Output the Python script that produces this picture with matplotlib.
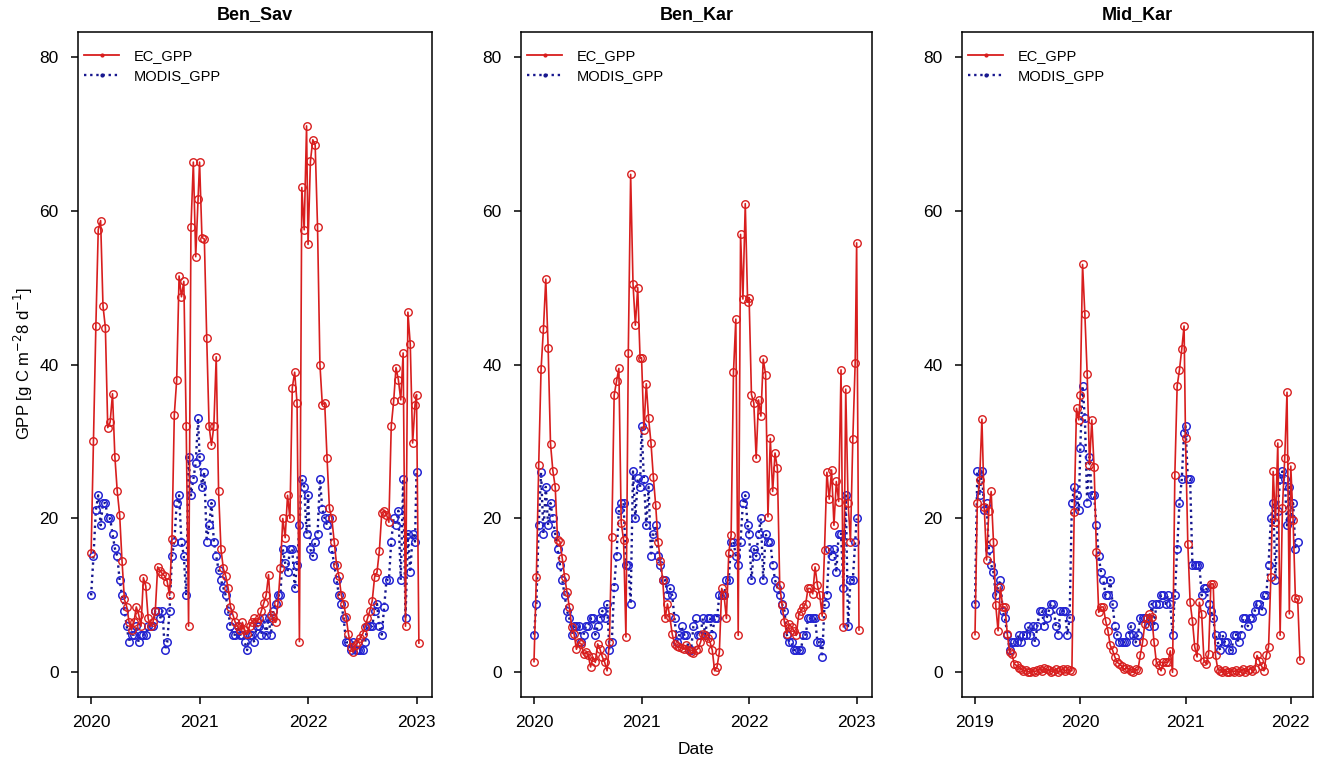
"""
GPP comparison EC tower vs. MODIS (8-day composites) for three sites.
"""

import numpy as np
import matplotlib

matplotlib.use("Agg")
import matplotlib.pyplot as plt
from matplotlib.lines import Line2D

plt.rcParams["font.family"] = ["Liberation Sans", "DejaVu Sans"]

# ---------------------------------------------------------------- data
SITES = ["Ben_Sav", "Ben_Kar", "Mid_Kar"]
START_YEARS = [2020, 2020, 2019]
YEAR_TICKS = [[2020, 2021, 2022, 2023], [2020, 2021, 2022, 2023], [2019, 2020, 2021, 2022]]

# Ben_Sav, EC (46 composites per year, 2020 .. early 2023)
ben_sav_ec = [
    15.5, 30, 45, 57.5, 58.7, 47.6, 44.8, 31.8, 32.5, 36.2, 28, 23.5, 20.5, 14.5, 9.5, 8.5,
    6.5, 5.5, 6.5, 8.5, 7.5, 6, 12.3, 11.2, 7, 6, 6.5, 8, 13.7, 13.2, 12.8, 12.5, 11.8, 10,
    17.3, 33.5, 38, 51.5, 48.8, 50.8, 32, 6, 57.8, 66.3, 54, 61.5,
    66.3, 56.5, 56.3, 43.5, 32, 29.5, 32, 41, 23.5, 16, 13.5, 12.5, 11, 8.5, 7.5, 6.5,
    6, 5.5, 6.5, 5.5, 5, 6, 6.5, 7, 6.5, 7, 8, 9, 10, 12.7, 7.5, 7, 6.5, 9, 13.5, 20,
    17.5, 23, 20, 37, 39, 35, 4, 63, 57.5, 71,
    55.6, 66.4, 69.2, 68.5, 57.8, 40, 34.8, 35, 27.8, 21.3, 20, 17, 14, 12.5, 10, 8.9,
    7.2, 5, 3.3, 2.6, 3.5, 4, 4.5, 5, 5.9, 7, 8, 9.3, 12.4, 13, 15.8, 20.7, 21, 20.5,
    19.5, 32, 35.2, 39.6, 38, 35.4, 41.5, 6, 46.8, 42.6, 29.8, 34.8,
    36.1, 3.8,
]
ben_sav_modis = [
    10, 15.1, 21.1, 23, 19.1, 22, 22, 20, 20, 18, 16.1, 15.1, 12, 10, 8, 6, 3.9, 4.9,
    4.9, 6, 3.9, 4.9, 4.9, 4.9, 6, 6, 6, 8, 8, 7, 8, 2.9, 3.9, 8, 15.1, 17, 22, 23, 17,
    15.1, 10, 28, 23, 25.1, 27.2, 33,
    28, 24.1, 26, 17, 19.1, 22, 17, 15.1, 13.3, 12, 11, 10, 8, 6, 4.9, 4.9, 6, 4.9, 4.9,
    3.9, 2.9, 4.9, 4.9, 3.9, 6, 6, 4.9, 7, 4.9, 7, 4.9, 8, 8.9, 10, 10, 16, 14.2, 13, 16,
    16, 11, 14, 19.1, 25.1, 24.1, 18,
    23, 16, 15.1, 17, 18, 25.1, 21.2, 20, 19.1, 20, 16, 14, 12, 10, 8.9, 7, 3.9, 3.9, 2.9,
    3.9, 2.9, 2.9, 2.9, 2.9, 3.9, 6, 6, 6, 8, 8.9, 6, 4.9, 8.5, 12, 12, 17, 20, 19.1, 21,
    12, 25.1, 7, 18, 13, 18, 17,
    26,
]

# Ben_Kar
ben_kar_ec = [
    1.4, 12.4, 27, 39.4, 44.6, 51.1, 42.2, 29.7, 26.2, 24.1, 17.2, 17, 14.8, 12.4, 10.4,
    8.5, 5.9, 5, 3, 3.9, 3.7, 2.4, 2.6, 2.2, 0.7, 2, 1.3, 3.7, 3, 2, 1.3, 0.2, 4, 17.6,
    36, 37.8, 39.5, 19.4, 17.2, 4.6, 41.5, 64.7, 50.5, 45.1, 50, 40.8,
    40.9, 31.5, 37.5, 33, 29.8, 25.4, 21.7, 17, 14.5, 12, 7, 8.9, 7.2, 5, 3.7, 3.4, 3.3,
    3.2, 3.0, 3.5, 2.9, 2.6, 2.5, 2.9, 3.1, 3.9, 5, 4.8, 4.5, 4.0, 2.9, 0.2, 0.7, 2.6,
    10.9, 10, 7, 15.5, 17.8, 39, 45.9, 4.8, 56.9, 48.5, 60.9, 48.1,
    48.7, 36.1, 35, 27.8, 35.4, 33.3, 40.7, 38.7, 20.2, 30.4, 23.5, 28.5, 26.5, 11.3, 8.7,
    6.5, 5, 6.3, 5.9, 5.4, 4.8, 7.4, 8, 8.5, 8.9, 10.9, 10.9, 10.2, 13.7, 11.3, 10, 7.3,
    15.9, 26, 22.5, 26.3, 19.1, 24.8, 22.2, 39.3, 5.9, 36.8, 22, 17, 30.3, 40.2,
    55.8, 5.5,
]
ben_kar_modis = [
    4.9, 8.9, 19.1, 26, 18, 24.1, 19.1, 22, 20, 18, 16, 14, 12, 10, 8, 7, 4.9, 6, 6, 6,
    3.9, 4.9, 6, 6, 7, 7, 4.9, 6, 7, 8, 7, 8.9, 2.9, 3.9, 11.1, 15.1, 21.1, 22, 22, 14,
    14, 8.9, 26.1, 20, 25.2, 24.1,
    32, 25.1, 19.1, 24.1, 15.1, 18, 19.1, 15.1, 14, 12, 12, 10, 11, 10, 7, 3.9, 4.9, 6,
    4.9, 4.9, 2.9, 2.9, 6, 7, 4.9, 4.9, 7, 4.9, 7, 7, 4.9, 7, 7, 10, 10, 10, 12, 12, 17,
    17, 15.1, 14, 17, 22, 23, 19.1,
    18, 12, 16, 15.1, 18, 20, 12, 18, 17, 17, 14, 12, 11, 10, 8.9, 8, 4.9, 3.9, 3.9, 2.9,
    2.9, 2.9, 2.9, 4.9, 4.9, 7, 7, 7, 7, 3.9, 3.9, 2, 8.9, 10, 16, 15.1, 16, 13, 18, 18,
    11, 23, 6, 12, 12, 17,
    20,
]

# Mid_Kar (2019 .. early 2022)
mid_kar_ec = [
    4.9, 22, 25, 32.9, 21.5, 14.6, 21, 23.5, 17, 8.7, 5.4, 11.1, 8.5, 8.5, 5, 2.6, 2.4,
    1.1, 0.9, 0.6, 0.4, 0.2, 0.3, 0.1, 0, 0.2, 0.1, 0.3, 0.5, 0.2, 0.6, 0.4, 0.3, 0.1,
    0.2, 0.4, 0.1, 0.3, 0.5, 0.2, 0.4, 0.3, 0.2, 20.9, 34.3, 32.8,
    36.1, 53, 46.5, 38.8, 27, 32.8, 26.7, 15.7, 7.8, 8.5, 8.5, 6.7, 5.4, 3.5, 2.9, 2,
    1.3, 1.1, 0.8, 0.4, 0.6, 0.4, 0.2, 0, 0.4, 0.3, 2.2, 3.9, 6.3, 7, 7.6, 7.2, 3.9, 1.3,
    0.9, 0.2, 1.3, 1.3, 1.3, 2.8, 0, 25.7, 37.2, 39.3, 42, 45,
    30.4, 16.7, 9.1, 6.7, 3.3, 2, 9.1, 7.6, 1.5, 1.1, 2.4, 11.5, 11.5, 2.2, 0.4, 0.2,
    0.1, 0.3, 0.1, 0, 0.2, 0.1, 0.3, 0, 0.2, 0.4, 0.1, 0.3, 0.5, 0.2, 0.4, 2.2, 1.5, 0.8,
    0.2, 2.2, 3.3, 12.4, 26.1, 19.6, 29.8, 4.8, 21.3, 27.8, 36.4, 7.6,
    26.8, 19.8, 9.6, 9.5, 1.6,
]
mid_kar_modis = [
    8.9, 26.1, 23, 26.1, 21.1, 22, 16, 14, 13, 10, 11.1, 12, 8, 7, 4.9, 2.9, 3.9, 3.9,
    3.9, 4.9, 3.9, 4.9, 4.9, 6, 4.9, 6, 3.9, 6, 8, 8, 6, 7, 8, 8.9, 8.9, 6, 4.9, 8, 8, 8,
    4.9, 7, 22, 24.1, 23, 21.1,
    29.1, 37.2, 33, 22, 28, 23, 23, 19.1, 15.1, 13, 12, 10, 10, 12, 8.9, 6, 4.9, 3.9, 3.9,
    3.9, 3.9, 4.9, 6, 4.9, 3.9, 4.9, 7, 7, 7, 7, 6, 8.9, 6, 8.9, 8.9, 10, 10, 8.9, 10, 8.9,
    4.9, 10, 16, 22, 25.1, 31.1,
    32, 25.1, 25.1, 13.9, 14, 14, 14, 10, 11, 11, 8.9, 8, 7, 4.9, 3.9, 2.9, 4.9, 3.9, 3.9,
    2.9, 2.9, 4.9, 4.9, 3.9, 4.9, 7, 7, 6, 7, 7, 8, 8.9, 8.9, 8, 10, 10, 14, 20, 22, 12,
    21, 25.1, 26.1, 25.1, 19.1, 24.1,
    20, 22, 16, 17,
]

EC_SERIES = [ben_sav_ec, ben_kar_ec, mid_kar_ec]
MODIS_SERIES = [ben_sav_modis, ben_kar_modis, mid_kar_modis]

# ---------------------------------------------------------------- style
RED = "#d81e1e"
BLUE_LINE = "#17178f"
BLUE_MARK = "#2424d2"
AX_LEFT = [78, 521, 962]
AX_WIDTH = [354, 351, 351]
W, H = 1322, 761


def composite_dates(start_year, n, per_year=46, step=8):
    """Decimal years of MODIS-style 8-day composites (DOY 1, 9, ..., 361)."""
    i = np.arange(n)
    return start_year + i // per_year + (i % per_year) * step / 365.0


fig = plt.figure(figsize=(W / 100, H / 100), dpi=100)

for k, site in enumerate(SITES):
    ax = fig.add_axes([AX_LEFT[k] / W, (H - 697) / H, AX_WIDTH[k] / W, 665 / H])
    ec = np.array(EC_SERIES[k])
    modis = np.array(MODIS_SERIES[k])
    x_ec = composite_dates(START_YEARS[k], len(ec))
    x_mo = composite_dates(START_YEARS[k], len(modis))

    ax.plot(x_mo, modis, linestyle=(0, (1, 1.6)), color=BLUE_LINE, lw=1.7,
            marker="o", ms=5.4, mfc="none", mec=BLUE_MARK, mew=1.1, zorder=2)
    ax.plot(x_ec, ec, "-", color=RED, lw=1.2,
            marker="o", ms=5.4, mfc="none", mec=RED, mew=1.0, zorder=3)

    # R style axis limits (4 % padding)
    xmin = min(x_ec.min(), x_mo.min())
    xmax = max(x_ec.max(), x_mo.max())
    pad = 0.04 * (xmax - xmin)
    ax.set_xlim(xmin - pad, xmax + pad)
    ax.set_ylim(-3.2, 83.2)
    ax.set_xticks(YEAR_TICKS[k])
    ax.set_xticklabels([str(y) for y in YEAR_TICKS[k]])
    ax.set_yticks([0, 20, 40, 60, 80])

    for sp in ax.spines.values():
        sp.set_color("black")
        sp.set_linewidth(1.1)
    ax.tick_params(axis="both", direction="out", length=5, width=1.1,
                   labelsize=12.5, colors="black")
    ax.tick_params(axis="y", pad=9)
    ax.tick_params(axis="x", pad=8)

    ax.set_title(site, fontsize=13, fontweight="bold", pad=9)

    handles = [
        Line2D([], [], color=RED, lw=1.3, marker=".", ms=4),
        Line2D([], [], color=BLUE_LINE, lw=1.7, linestyle=(0, (1, 1.6)),
               marker=".", ms=4),
    ]
    ax.legend(handles, ["EC_GPP", "MODIS_GPP"], loc="upper left",
              bbox_to_anchor=(0.01, 0.979), frameon=False, fontsize=10.5,
              handlelength=2.4, handletextpad=1.0, labelspacing=0.45,
              borderpad=0.2, borderaxespad=0)

fig.text(23 / W, 1 - 364 / H, r"GPP [g C m$^{-2}$8 d$^{-1}$]", rotation=90,
         ha="center", va="center", fontsize=12)
fig.text(696 / W, 1 - 750 / H, "Date", ha="center", va="center", fontsize=12.5)

fig.savefig("out.png", dpi=100)
